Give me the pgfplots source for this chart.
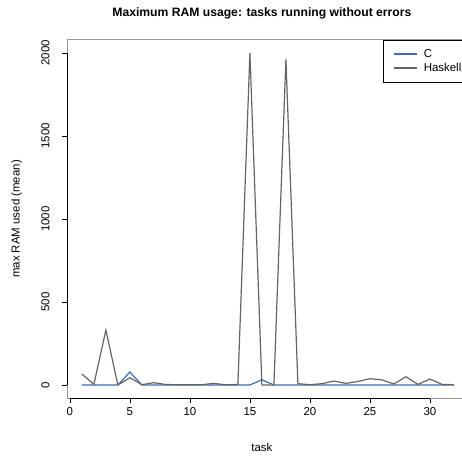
\documentclass[border=0pt]{standalone}
\usepackage{pgfplots}
\pgfplotsset{compat=1.18}
\usepackage{fontspec}
\setmainfont{Liberation Sans}
\definecolor{cblue}{RGB}{58,108,185}
\definecolor{hgray}{RGB}{100,100,100}
\definecolor{boxgray}{RGB}{150,150,150}

\begin{document}
\begin{tikzpicture}
\clip (0,0) rectangle (462bp,461bp);
\path[use as bounding box] (0,0) rectangle (462bp,461bp);
\begin{axis}[
    at={(67bp,62.7bp)}, anchor=south west,
    width=401.8bp, height=358.6bp, scale only axis,
    xmin=-0.24, xmax=33.24, ymin=-80, ymax=2080,
    xtick={0,5,...,30}, ytick={0,500,...,2000},
    axis line style={boxgray, line width=0.6pt},
    tick align=outside, tick pos=left,
    major tick length=5bp,
    tick style={black, line width=0.6pt},
    ticklabel style={font=\fontsize{11.5}{13}\selectfont},
    /pgf/number format/assume math mode=true,
    /pgf/number format/1000 sep={},
    yticklabel style={rotate=90, anchor=south},
    yticklabel shift=9bp,
    xticklabel shift=1bp,
    title={Maximum RAM usage: tasks running without errors},
    title style={font=\bfseries\fontsize{12.2}{14}\selectfont, at={(axis description cs:0.485,1.057)}, anchor=center},
    xlabel={task},
    xlabel style={font=\fontsize{11.5}{13}\selectfont, at={(axis description cs:0.485,-0.136)}, anchor=center},
    ylabel={max RAM used (mean)},
    ylabel style={font=\fontsize{11.5}{13}\selectfont, at={(axis description cs:-0.125,0.5)}, anchor=center, rotate=0},
    legend style={at={(axis cs:26.1,2080)}, anchor=north west, draw=black, line width=0.6pt,
        font=\fontsize{11.5}{13}\selectfont, inner xsep=10bp, inner ysep=7.5bp,
        row sep=0bp, cells={anchor=west}},
    legend image code/.code={\draw[#1, line width=1.5pt] (0bp,0bp) -- (23bp,0bp); \path (27bp,0bp);},
    clip=false,
]
\addplot[cblue, line width=1.2pt] coordinates {
(1,0) (2,0) (3,0) (4,0) (5,78) (6,0) (7,0) (8,0) (9,0) (10,0)
(11,0) (12,0) (13,0) (14,0) (15,0) (16,32) (17,0) (18,0) (19,0) (20,0)
(21,0) (22,0) (23,0) (24,0) (25,0) (26,0) (27,0) (28,0) (29,0) (30,0)
(31,0) (32,0)};
\addlegendentry{C}
\addplot[hgray, line width=1.2pt] coordinates {
(1,66) (2,4) (3,331) (4,0) (5,44) (6,2) (7,14) (8,3) (9,2) (10,2)
(11,2) (12,10) (13,1) (14,3) (15,2000) (16,0) (17,0) (18,1962) (19,8) (20,2)
(21,8) (22,24) (23,10) (24,21) (25,38) (26,31) (27,6) (28,50) (29,4) (30,36)
(31,4) (32,2)};
\addlegendentry{Haskell}
\draw[black, line width=0.6pt] (axis cs:0,-80) -- (axis cs:30,-80);
\draw[black, line width=0.6pt] (axis cs:-0.24,0) -- (axis cs:-0.24,2000);
\end{axis}
\end{tikzpicture}
\end{document}
